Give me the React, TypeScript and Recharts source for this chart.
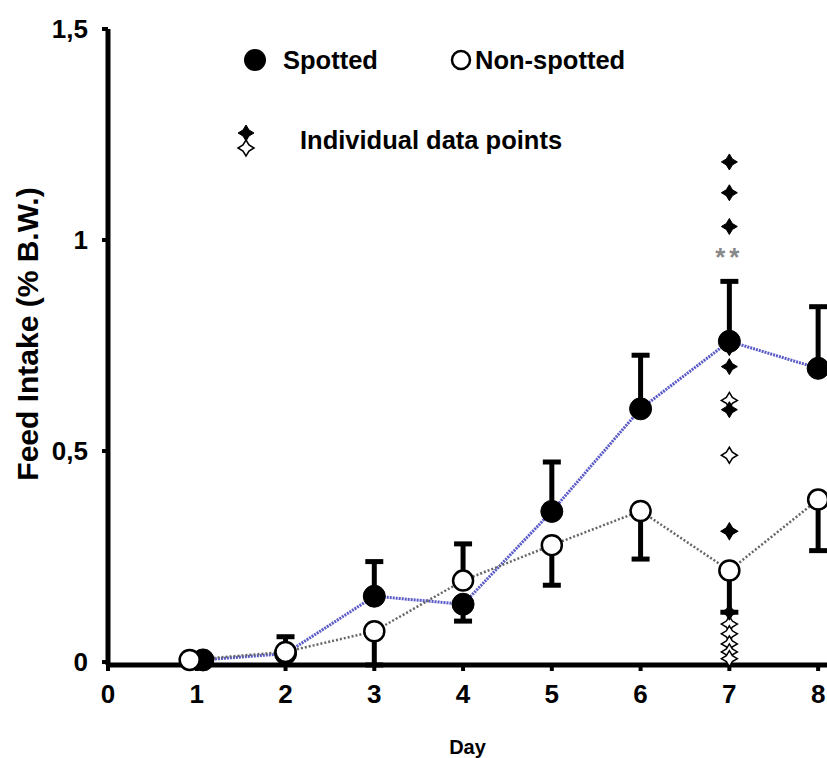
import { ComposedChart, Line, Scatter, XAxis, YAxis, ErrorBar, ReferenceDot } from "recharts";

const FONT = "'Liberation Sans', Arial, sans-serif";

// day positions (day 1 is slightly jittered in the original)
const spottedDays = [1.07, 2, 3, 4, 5, 6, 7, 8];
const nonSpottedDays = [0.92, 2, 3, 4, 5, 6, 7, 8];

const spottedMean = [0.005, 0.02, 0.156, 0.137, 0.357, 0.6, 0.76, 0.696];
const spottedErrDown = [0, 0, 0, 0.04, 0, 0, 0, 0];
const spottedErrUp = [0, 0.04, 0.082, 0, 0.117, 0.127, 0.142, 0.146];

const nonSpottedMean = [0.005, 0.024, 0.073, 0.193, 0.277, 0.358, 0.217, 0.385];
const nonSpottedErrDown = [0, 0, 0.08, 0, 0.095, 0.114, 0.099, 0.121];
const nonSpottedErrUp = [0, 0, 0, 0.087, 0, 0, 0, 0];

// individual data points on day 7
const individualDay = 7;
const individualSpotted = [1.185, 1.112, 1.032, 0.745, 0.7, 0.598, 0.31, 0.118];
const individualNonSpotted = [0.62, 0.49, 0.31, 0.09, 0.067, 0.043, 0.024, 0.008];

const significance = [{ day: 7, value: 0.96, text: "**" }];

const xTicks = [0, 1, 2, 3, 4, 5, 6, 7, 8];
const yTicks = [0, 0.5, 1, 1.5];

const spottedData = spottedDays.map((d, i) => ({
  day: d,
  value: spottedMean[i],
  err: [spottedErrDown[i], spottedErrUp[i]],
}));
const nonSpottedData = nonSpottedDays.map((d, i) => ({
  day: d,
  value: nonSpottedMean[i],
  err: [nonSpottedErrDown[i], nonSpottedErrUp[i]],
}));
const spottedPoints = individualSpotted.map((v) => ({ day: individualDay, value: v }));
const nonSpottedPoints = individualNonSpotted.map((v) => ({ day: individualDay, value: v }));

function Star({ cx, cy, filled }: { cx?: number; cy?: number; filled: boolean }) {
  if (cx == null || cy == null) return null;
  const o = 8;
  const n = 3;
  const d = `M${cx},${cy - o} L${cx + n},${cy - n} L${cx + o},${cy} L${cx + n},${cy + n} L${cx},${cy + o} L${cx - n},${cy + n} L${cx - o},${cy} L${cx - n},${cy - n} Z`;
  return <path d={d} fill={filled ? "#000" : "#fff"} stroke="#000" strokeWidth={filled ? 1 : 1.5} />;
}

// legend drawn as an overlay so it doesn't take space from the plot
function LegendBox() {
  const text = { position: "absolute" as const, fontFamily: FONT, fontWeight: "bold", fontSize: 25.5, color: "#000", lineHeight: "28px", whiteSpace: "nowrap" as const };
  return (
    <div style={{ position: "absolute", left: 0, top: 0, width: 827, height: 170, pointerEvents: "none" }}>
      <svg style={{ position: "absolute", left: 0, top: 0 }} width={827} height={170}>
        <circle cx={255} cy={60} r={11} fill="#000" />
        <circle cx={461} cy={60} r={9} fill="#fff" stroke="#000" strokeWidth={2.5} />
        <Star cx={246} cy={133} filled />
        <Star cx={246} cy={148} filled={false} />
      </svg>
      <span style={{ ...text, left: 283, top: 46 }}>Spotted</span>
      <span style={{ ...text, left: 475, top: 46 }}>Non-spotted</span>
      <span style={{ ...text, left: 300, top: 126 }}>Individual data points</span>
    </div>
  );
}

const tickStyle = { fontSize: 26, fontWeight: "bold", fill: "#000", fontFamily: FONT };

export default function App() {
  return (
    <div style={{ position: "absolute", left: 0, top: 0, width: 827, height: 758, background: "#fff" }}>
      <ComposedChart width={827} height={758} margin={{ top: 29, right: 0, left: 0, bottom: 0 }}>
        <XAxis
          type="number"
          dataKey="day"
          domain={[0, 8.1]}
          ticks={xTicks}
          allowDataOverflow
          height={93}
          axisLine={{ stroke: "#000", strokeWidth: 5 }}
          tickLine={{ stroke: "#000", strokeWidth: 4 }}
          tickSize={6}
          tickMargin={14}
          tick={tickStyle}
          label={{ value: "Day", position: "insideBottom", offset: 4, style: { fontSize: 20, fontWeight: "bold", fill: "#000", fontFamily: FONT } }}
        />
        <YAxis
          type="number"
          domain={[0, 1.5]}
          ticks={yTicks}
          width={108}
          axisLine={{ stroke: "#000", strokeWidth: 5 }}
          tickLine={{ stroke: "#000", strokeWidth: 4 }}
          tickSize={6}
          tickMargin={14}
          tick={tickStyle}
          tickFormatter={(v: number) => String(v).replace(".", ",")}
          label={{ value: "Feed Intake (% B.W.)", angle: -90, position: "center", dx: -27, dy: -13, style: { fontSize: 30, fontWeight: "bold", fill: "#000", fontFamily: FONT, textAnchor: "middle" } }}
        />
        <Line
          data={spottedData}
          dataKey="value"
          name="Spotted"
          stroke="#5a5ac8"
          strokeWidth={3}
          strokeDasharray="2 1"
          dot={{ r: 11, fill: "#000", stroke: "#000", strokeWidth: 1, strokeDasharray: "0" }}
          activeDot={false}
          isAnimationActive={false}
        >
          <ErrorBar dataKey="err" direction="y" stroke="#000" strokeWidth={5} width={9} />
        </Line>
        <Line
          data={nonSpottedData}
          dataKey="value"
          name="Non-spotted"
          stroke="#666"
          strokeWidth={2.5}
          strokeDasharray="2 2"
          dot={{ r: 10, fill: "#fff", stroke: "#000", strokeWidth: 2.5, strokeDasharray: "0" }}
          activeDot={false}
          isAnimationActive={false}
        >
          <ErrorBar dataKey="err" direction="y" stroke="#000" strokeWidth={5} width={9} />
        </Line>
        <Scatter data={nonSpottedPoints} dataKey="value" shape={(p: any) => <Star cx={p.cx} cy={p.cy} filled={false} />} isAnimationActive={false} />
        <Scatter data={spottedPoints} dataKey="value" shape={(p: any) => <Star cx={p.cx} cy={p.cy} filled />} isAnimationActive={false} />
        {significance.map((s) => (
          <ReferenceDot
            key={s.text}
            x={s.day}
            y={s.value}
            r={0}
            stroke="none"
            fill="none"
            label={{ value: s.text, position: "center", style: { fontSize: 26, fontWeight: "bold", fill: "#888", fontFamily: FONT, letterSpacing: 4 } }}
          />
        ))}
      </ComposedChart>
      <LegendBox />
    </div>
  );
}
